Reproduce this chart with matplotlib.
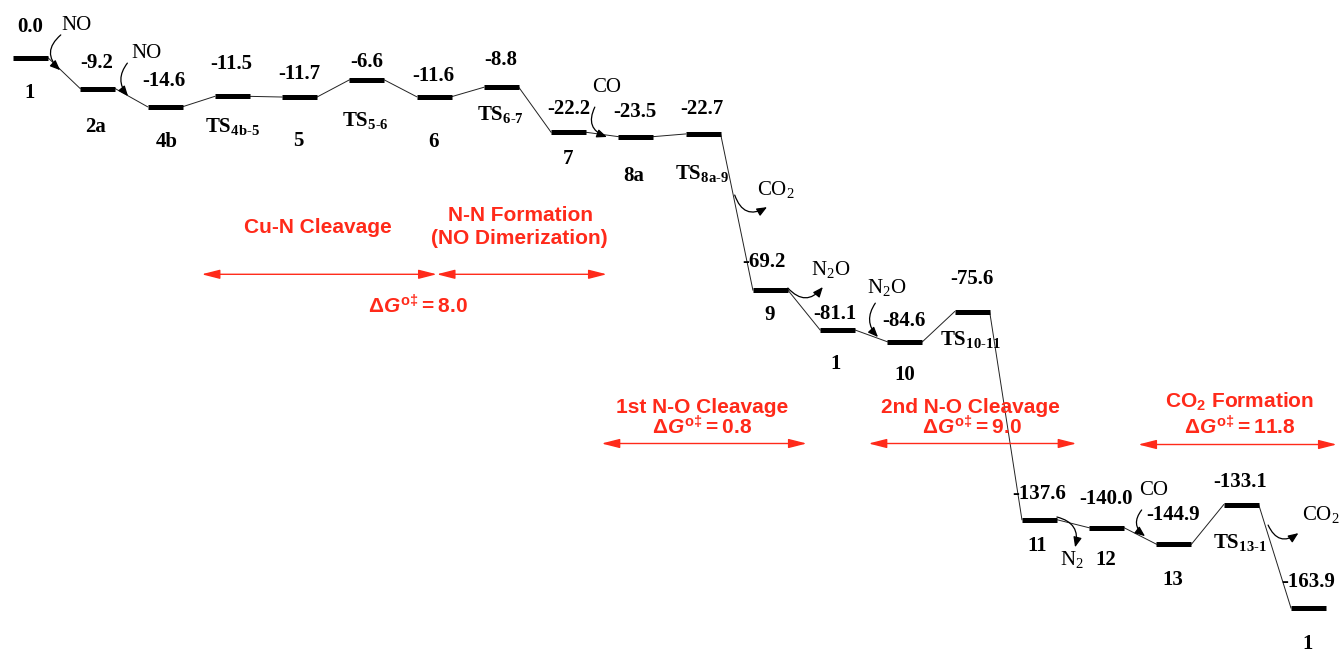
import matplotlib
matplotlib.use("Agg")
import matplotlib.pyplot as plt

plt.rcParams['mathtext.fontset'] = 'custom'
plt.rcParams['mathtext.rm'] = 'Liberation Serif'
plt.rcParams['mathtext.bf'] = 'Liberation Serif:bold'
plt.rcParams['mathtext.sf'] = 'Liberation Sans:bold'
plt.rcParams['mathtext.it'] = 'Liberation Sans:italic:bold'

# Free energies (kcal/mol) along the catalytic cycle
energies = [0.0, -9.2, -14.6, -11.5, -11.7, -6.6, -11.6, -8.8, -22.2, -23.5, -22.7,
            -69.2, -81.1, -84.6, -75.6, -137.6, -140.0, -144.9, -133.1, -163.9]
species = ["1", "2a", "4b", r"TS$_\mathbf{4b‐5}$", "5", r"TS$_\mathbf{5‐6}$", "6",
           r"TS$_\mathbf{6‐7}$", "7", "8a", r"TS$_\mathbf{8a‐9}$", "9", "1", "10",
           r"TS$_\mathbf{10‐11}$", "11", "12", "13", r"TS$_\mathbf{13‐1}$", "1"]

# label offsets in pixels (dx, dy) from the level centre
value_off = [(0, 26), (-1, 21), (-1, 21), (-1, 27), (0, 18), (0, 13), (-1, 16), (-1, 22),
             (0, 18), (-1, 20), (-1, 20), (-6, 23), (-3, 11), (-1, 16), (0, 28), (0, 21),
             (-1, 24), (-1, 24), (-1, 18), (0, 21)]
name_off = [(-1, -40), (-2, -43), (2, -40), (0, -36), (-1, -49), (-1, -47), (-1, -50),
            (-1, -33), (-1, -32), (-2, -44), (-1, -46), (-1, -30), (-2, -39), (0, -38),
            (-2, -34), (-2, -31), (-1, -37), (-1, -41), (-1, -44), (-1, -41)]

# reagents entering / leaving: label, label pos, arrow start, arrow end, curvature, align
reagents = [
    ("NO", (0.69, 9.7), (0.45, 6.8), (0.44, -3.7), 0.55, "center"),
    ("NO", (1.73, 1.4), (1.44, -1.6), (1.45, -11.4), 0.4, "center"),
    ("CO", (8.57, -9.0), (8.39, -14.7), (8.57, -23.6), 0.55, "center"),
    (r"CO$_\mathrm{2}$", (10.80, -39.4), (10.47, -40.9), (10.95, -44.5), 0.6, "left"),
    (r"N$_\mathrm{2}$O", (11.89, -63.3), (11.26, -68.6), (11.78, -68.3), 0.57, "center"),
    (r"N$_\mathrm{2}$O", (12.73, -68.6), (12.56, -73.1), (12.60, -83.2), 0.4, "center"),
    (r"N$_\mathrm{2}$", (15.49, -149.6), (15.26, -136.8), (15.53, -145.8), -0.5, "center"),
    ("CO", (16.70, -128.8), (16.52, -134.7), (16.57, -142.5), 0.5, "center"),
    (r"CO$_\mathrm{2}$", (18.90, -136.2), (18.40, -139.2), (18.85, -141.6), 0.6, "left"),
]

# red step annotations: double arrows and their captions
red = '#ff2a1a'
spans = [(2.545, 6.04, -64.5), (6.04, 8.567, -64.5), (8.49, 11.54, -114.9),
         (12.46, 15.55, -114.9), (16.47, 19.42, -115.2)]
captions = [
    ("Cu-N Cleavage", 4.27, -52.1),
    ("N-N Formation", 7.28, -48.5),
    ("(NO Dimerization)", 7.26, -55.5),
    (r"$\mathsf{\Delta}\mathit{G}^{\mathsf{o\ddag}}\mathsf{=8.0}$", 5.76, -76.3),
    ("1st N-O Cleavage", 9.99, -105.7),
    (r"$\mathsf{\Delta}\mathit{G}^{\mathsf{o\ddag}}\mathsf{=0.8}$", 9.98, -112.1),
    ("2nd N-O Cleavage", 13.98, -105.7),
    (r"$\mathsf{\Delta}\mathit{G}^{\mathsf{o\ddag}}\mathsf{=9.0}$", 14.0, -112.1),
    (r"$\mathsf{CO_2\ Formation}$", 17.98, -104.3),
    (r"$\mathsf{\Delta}\mathit{G}^{\mathsf{o\ddag}}\mathsf{=11.8}$", 17.98, -112.1),
]

fig = plt.figure(figsize=(13.39, 6.54), dpi=100)
ax = fig.add_axes([0, 0, 1, 1])
ax.set_xlim(-0.4535, 19.454)
ax.set_ylim(-177.6, 17.2)
ax.axis('off')

hw = 0.26
for i, e in enumerate(energies):
    ax.plot([i - hw, i + hw], [e, e], color='black', lw=3.6, solid_capstyle='butt', zorder=3)
    if i + 1 < len(energies):
        ax.plot([i + hw, i + 1 - hw], [e, energies[i + 1]], color='#222222', lw=0.7, zorder=2)
    dx, dy = value_off[i]
    ax.annotate(f"{e:.1f}", (i, e), xytext=(dx, dy), textcoords='offset pixels',
                ha='center', va='baseline', fontsize=15, fontweight='bold',
                family='Liberation Serif')
    dx, dy = name_off[i]
    ax.annotate(species[i], (i, e), xytext=(dx, dy), textcoords='offset pixels',
                ha='center', va='baseline', fontsize=15, fontweight='bold',
                family='Liberation Serif')

for label, txy, start, end, rad, ha in reagents:
    ax.annotate("", xy=end, xytext=start,
                arrowprops=dict(arrowstyle='-|>,head_length=0.6,head_width=0.25',
                                mutation_scale=10, color='black', lw=0.9,
                                shrinkA=0, shrinkB=0,
                                connectionstyle=f"arc3,rad={rad}"))
    ax.text(txy[0], txy[1], label, ha=ha, va='center', fontsize=15,
            family='Liberation Serif')

for x0, x1, y in spans:
    ax.annotate("", xy=(x1, y), xytext=(x0, y),
                arrowprops=dict(arrowstyle='<|-|>,head_length=0.55,head_width=0.14',
                                mutation_scale=20, color=red, lw=1.0,
                                shrinkA=0, shrinkB=0))

for text, x, y in captions:
    ax.text(x, y, text, ha='center', va='baseline', fontsize=15, color=red,
            fontweight='bold', family='Liberation Sans')

fig.savefig("out.png", dpi=100)
